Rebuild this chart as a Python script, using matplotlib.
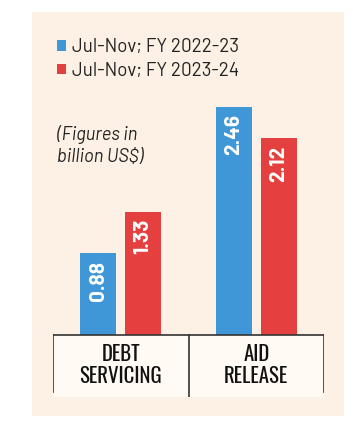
import matplotlib
matplotlib.use("Agg")
import matplotlib.pyplot as plt
from matplotlib.patches import Rectangle
from matplotlib.lines import Line2D
import numpy as np

# data
categories = ["DEBT\nSERVICING", "AID\nRELEASE"]
series_names = ["Jul-Nov; FY 2022-23", "Jul-Nov; FY 2023-24"]
fy2223 = [0.88, 2.46]
fy2324 = [1.33, 2.12]
colors = ["#3f97d8", "#e3403f"]

body_font = ["Barlow", "DejaVu Sans"]
cond_font = ["Oswald", "Barlow Condensed", "DejaVu Sans"]

W, H = 353, 433
fig = plt.figure(figsize=(W / 100, H / 100), dpi=100, facecolor="white")


def fx(px):
    return px / W


def fy(py):
    return 1 - py / H


# beige panel
fig.patches.append(Rectangle((fx(32), fy(416)), fx(344) - fx(32), fy(12) - fy(416),
                             transform=fig.transFigure, facecolor="#fcf1e4",
                             edgecolor="none", zorder=-5))

# axes: x -0.5..1.5 spans the table box, baseline at y=335px
ppu = 92.7
top_px, bot_px = 12, 397
ax = fig.add_axes([fx(53), fy(bot_px), fx(324) - fx(53), fy(top_px) - fy(bot_px)])
ax.set_xlim(-0.5, 1.5)
ax.set_ylim(-(bot_px - 335) / ppu, (335 - top_px) / ppu)
ax.axis("off")

x = np.arange(len(categories))
w = 0.266
off = 0.166
b1 = ax.bar(x - off, fy2223, w, color=colors[0], label=series_names[0], zorder=3)
b2 = ax.bar(x + off, fy2324, w, color=colors[1], label=series_names[1], zorder=3)

for bars, vals in [(b1, fy2223), (b2, fy2324)]:
    for r, v in zip(bars, vals):
        ax.text(r.get_x() + r.get_width() / 2, v - 0.08, f"{v:.2f}", rotation=90,
                ha="center", va="top", color="white", fontsize=15,
                fontweight="bold", family=body_font, zorder=4)

# table box under the bars
ylo = ax.get_ylim()[0]
ax.add_patch(Rectangle((-0.5, ylo), 2, -ylo, facecolor="#fffaf4",
                       edgecolor="none", zorder=1))
lc = "#333333"
ax.add_line(Line2D([-0.5, 1.5], [0, 0], color=lc, lw=1.2, zorder=5))
side_lo = -(392 - 335) / ppu
ax.add_line(Line2D([-0.497, -0.497], [0, side_lo], color=lc, lw=1.2))
ax.add_line(Line2D([1.497, 1.497], [0, side_lo], color=lc, lw=1.2))
ax.add_line(Line2D([0.5, 0.5], [0, ylo], color=lc, lw=1.2))

for xi, c in zip(x, categories):
    ax.text(xi, -(365 - 335) / ppu, c, ha="center", va="center",
            fontsize=15, family=cond_font, linespacing=1.08, color="#111111")

# legend
fig.legend(handles=[b1, b2], loc="upper left",
           bbox_to_anchor=(fx(57), fy(38)), frameon=False,
           prop={"family": body_font, "size": 13.5},
           handlelength=0.5, handleheight=0.5, handletextpad=0.3,
           labelspacing=0.3, borderpad=0, borderaxespad=0,
           labelcolor="#222222")

fig.text(fx(57), fy(135), "(Figures in", style="italic", fontsize=13.2,
         family=body_font, va="center", color="#222222")
fig.text(fx(57), fy(157), "billion US$)", style="italic", fontsize=13.2,
         family=body_font, va="center", color="#222222")

fig.savefig("out.png", dpi=100, facecolor="white")
